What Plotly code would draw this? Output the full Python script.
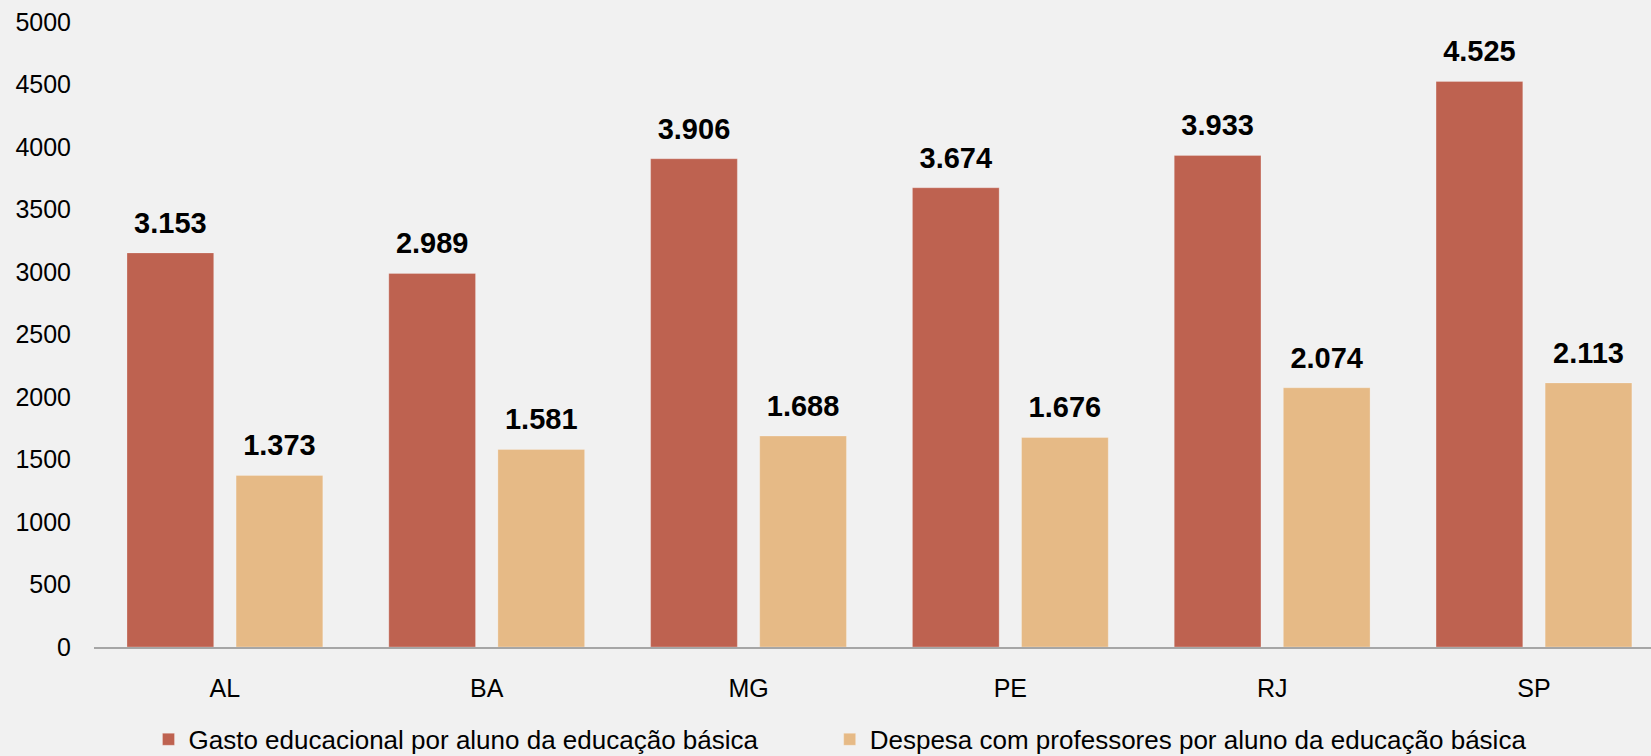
import plotly.graph_objects as go

# ---------------------- Data ----------------------
ESTADOS = ["AL", "BA", "MG", "PE", "RJ", "SP"]
GASTO = [3153, 2989, 3906, 3674, 3933, 4525]
DESPESA = [1373, 1581, 1688, 1676, 2074, 2113]

NOME_GASTO = "Gasto educacional por aluno da educação básica"
NOME_DESPESA = "Despesa com professores por aluno da educação básica"

COR_GASTO = "#BE6250"
COR_DESPESA = "#E6BA86"
FUNDO = "#F1F1F1"

fig = go.Figure()

# one legend per series so each entry can be placed on its own
for nome, vals, cor, grp, leg in [
    (NOME_GASTO, GASTO, COR_GASTO, "g", "legend"),
    (NOME_DESPESA, DESPESA, COR_DESPESA, "d", "legend2"),
]:
    fig.add_trace(go.Bar(
        x=ESTADOS, y=vals, name=nome, offsetgroup=grp, legend=leg,
        marker=dict(color=cor, line=dict(color="rgba(255,255,255,0.25)", width=1)),
        hoverinfo="skip",
    ))

# value labels sit above the bars (invisible markers give the gap)
for vals, grp in [(GASTO, "g"), (DESPESA, "d")]:
    fig.add_trace(go.Scatter(
        x=ESTADOS, y=vals, offsetgroup=grp, mode="markers+text",
        marker=dict(size=19, opacity=0),
        texttemplate="<b>%{y:,.0f}</b>", textposition="top center",
        textfont=dict(size=29, color="#000000", family="Liberation Sans, Arial"),
        showlegend=False, hoverinfo="skip", cliponaxis=False,
    ))

leg_style = dict(
    orientation="h", xanchor="left", yref="container", y=0.022, yanchor="middle",
    font=dict(size=26), bgcolor="rgba(0,0,0,0)", itemwidth=30,
)

fig.update_layout(
    width=1651, height=756,
    paper_bgcolor=FUNDO, plot_bgcolor=FUNDO,
    margin=dict(l=94, r=0, t=22, b=109),
    barmode="group", scattermode="group",
    bargap=0.1666, bargroupgap=0.205,
    separators=",.",
    font=dict(family="Liberation Sans, Arial", size=25, color="#000000"),
    showlegend=True,
    legend=dict(x=0.035, **leg_style),
    legend2=dict(x=0.4725, **leg_style),
)
fig.update_xaxes(
    range=[-0.5, 5.447], showgrid=False, showline=True, linecolor="#A6A6A6",
    linewidth=2, ticks="", ticklabelstandoff=18, zeroline=False,
)
fig.update_yaxes(
    range=[0, 5000], dtick=500, tickformat="d", showgrid=False, showline=False,
    zeroline=False, ticks="", ticklabelstandoff=22,
)

# drop the default page margin so the figure fills the window
fig.write_html(
    "out.html",
    config={"displayModeBar": False},
    post_script="document.body.style.margin='0';document.body.style.overflow='hidden';",
)
